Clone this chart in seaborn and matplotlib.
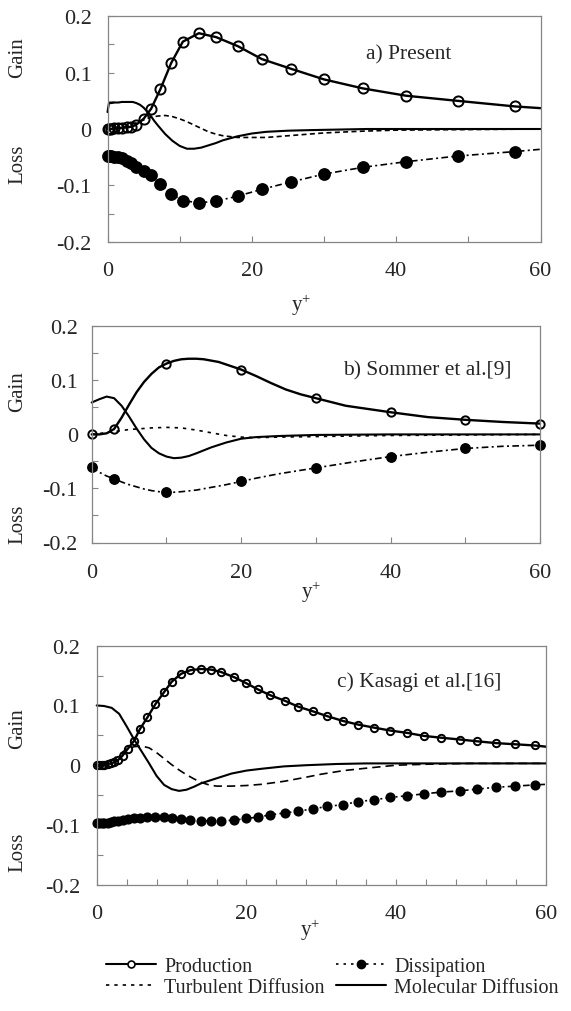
import numpy as np
import pandas as pd
import matplotlib
matplotlib.use("Agg")
import matplotlib.pyplot as plt
from matplotlib.lines import Line2D
import seaborn as sns

sns.set_style("white")
plt.rcParams["font.family"] = ["Liberation Serif", "DejaVu Serif"]
plt.rcParams["mathtext.fontset"] = "custom"
plt.rcParams["mathtext.rm"] = "Liberation Serif"
plt.rcParams["mathtext.it"] = "Liberation Serif:italic"

# ---------------- data ----------------
# Panel a) Present
prod_a_x = [0, 0.15, 0.5, 0.9, 1.4, 2.0, 2.7, 3.3, 3.9, 5.0, 6.05, 7.34, 8.82, 10.44, 12.66,
            15.06, 18.06, 21.4, 25.4, 30.0, 35.4, 41.4, 48.5, 56.5, 60.0]
prod_a_y = [0, 0.000, 0.000, 0.001, 0.001, 0.002, 0.003, 0.004, 0.007, 0.018, 0.036, 0.071, 0.117,
            0.155, 0.170, 0.163, 0.147, 0.124, 0.107, 0.088, 0.072, 0.059, 0.050, 0.040, 0.037]
diss_a_y = [-0.048, -0.048, -0.048, -0.049, -0.050, -0.052, -0.056, -0.061, -0.067, -0.074, -0.082,
            -0.097, -0.115, -0.127, -0.131, -0.128, -0.119, -0.107, -0.094, -0.080, -0.068, -0.058,
            -0.048, -0.040, -0.036]
mol_a_x = [0, 0.2, 0.5, 1, 1.5, 2, 2.5, 3, 3.5, 4, 4.5, 5, 5.5, 6, 6.5, 7, 8, 9, 10, 11, 12, 13,
           14, 15, 16, 18, 20, 22, 25, 28, 32, 36, 40, 50, 60]
mol_a_y = [0.030, 0.046, 0.046, 0.047, 0.047, 0.048, 0.048, 0.048, 0.048, 0.046, 0.043, 0.038,
           0.031, 0.023, 0.014, 0.006, -0.009, -0.021, -0.030, -0.035, -0.035, -0.033, -0.029,
           -0.025, -0.020, -0.013, -0.008, -0.005, -0.003, -0.002, -0.001, 0.0, 0.0, 0.0, 0.0]
turb_a_x = [0, 1, 2, 3, 4, 5, 6, 7, 8, 9, 10, 11, 12, 13, 14, 15, 16, 18, 20, 22, 25, 30, 35, 40,
            50, 60]
turb_a_y = [0, 0.001, 0.003, 0.007, 0.011, 0.016, 0.021, 0.023, 0.024, 0.022, 0.018, 0.013, 0.007,
            0.001, -0.005, -0.009, -0.012, -0.015, -0.015, -0.015, -0.012, -0.007, -0.004, -0.002,
            -0.001, 0.0]

# Panel b) Sommer et al.[9]
mark_b_x = [0, 3, 10, 20, 30, 40, 50, 60]
prod_b_x = [0, 1, 2, 3, 4, 5, 6, 7, 8, 9, 10, 11, 12, 13, 14, 15, 17, 20, 22, 24, 26, 28, 30, 34,
            40, 45, 50, 55, 60]
prod_b_y = [0, 0.000, 0.002, 0.010, 0.031, 0.055, 0.078, 0.097, 0.112, 0.124, 0.131, 0.136, 0.139,
            0.140, 0.140, 0.139, 0.134, 0.120, 0.108, 0.095, 0.083, 0.074, 0.067, 0.053, 0.041,
            0.032, 0.027, 0.023, 0.020]
diss_b_x = [0, 1, 2, 3, 4, 5, 6, 7, 8, 9, 10, 11, 12, 14, 16, 18, 20, 22, 25, 30, 35, 40, 45, 50,
            55, 60]
diss_b_y = [-0.060, -0.070, -0.077, -0.082, -0.088, -0.093, -0.097, -0.101, -0.104, -0.106, -0.107,
            -0.107, -0.106, -0.103, -0.098, -0.093, -0.087, -0.081, -0.073, -0.062, -0.051, -0.041,
            -0.033, -0.026, -0.022, -0.020]
mol_b_x = [0, 1, 2, 3, 4, 5, 6, 7, 8, 9, 10, 11, 12, 13, 14, 16, 18, 20, 22, 25, 30, 40, 50, 60]
mol_b_y = [0.059, 0.065, 0.070, 0.067, 0.053, 0.033, 0.011, -0.009, -0.025, -0.035, -0.041,
           -0.044, -0.043, -0.040, -0.035, -0.024, -0.015, -0.008, -0.005, -0.003, -0.001, 0.0,
           0.0, 0.0]
turb_b_x = [0, 3, 5, 8, 10, 12, 14, 16, 18, 20, 22, 25, 30, 40, 50, 60]
turb_b_y = [0, 0.005, 0.009, 0.012, 0.013, 0.012, 0.008, 0.003, -0.002, -0.005, -0.006, -0.005,
            -0.004, -0.002, -0.001, 0.0]

# Panel c) Kasagi et al.[16]
prod_c_x = [0, 0.3, 0.66, 1.0, 1.46, 1.9, 2.35, 2.88, 3.45, 4.12, 5.0, 5.75, 6.77, 7.83, 8.98,
            10.04, 11.28, 12.5, 13.9, 15.3, 16.6, 18.4, 20.0, 21.5, 23.2, 25.1, 26.9, 28.9, 30.8,
            32.9, 34.9, 37.0, 39.2, 41.5, 43.7, 46.0, 48.5, 50.8, 53.3, 55.9, 58.5, 60.0]
prod_c_y = [0, 0, 0, 0.001, 0.002, 0.003, 0.005, 0.009, 0.016, 0.027, 0.041, 0.060, 0.080, 0.102,
            0.122, 0.140, 0.153, 0.159, 0.161, 0.160, 0.156, 0.147, 0.137, 0.127, 0.117, 0.108,
            0.098, 0.090, 0.082, 0.074, 0.068, 0.063, 0.058, 0.054, 0.049, 0.046, 0.043, 0.040,
            0.037, 0.035, 0.033, 0.031]
diss_c_y = [-0.096, -0.096, -0.096, -0.096, -0.096, -0.095, -0.094, -0.093, -0.092, -0.090,
            -0.089, -0.088, -0.086, -0.086, -0.086, -0.088, -0.090, -0.092, -0.093, -0.093,
            -0.093, -0.092, -0.089, -0.087, -0.083, -0.080, -0.077, -0.073, -0.069, -0.066,
            -0.061, -0.058, -0.054, -0.051, -0.048, -0.045, -0.043, -0.040, -0.037, -0.035,
            -0.033, -0.032]
mol_c_x = [0, 1, 2, 3, 4, 5, 6, 7, 8, 9, 10, 11, 12, 13, 14, 16, 18, 20, 22, 25, 28, 32, 36, 40,
           50, 60]
mol_c_y = [0.100, 0.099, 0.096, 0.086, 0.065, 0.043, 0.023, 0.003, -0.018, -0.033, -0.040, -0.043,
           -0.041, -0.036, -0.030, -0.022, -0.014, -0.009, -0.006, -0.002, 0.000, 0.002, 0.003,
           0.003, 0.003, 0.003]
turb_c_x = [0, 1, 2, 3, 4, 5, 6, 7, 8, 9, 10, 11, 12, 13, 14, 15, 16, 18, 20, 22, 25, 28, 30, 33,
            36, 40, 45, 50, 60]
turb_c_y = [0, 0.002, 0.008, 0.018, 0.027, 0.031, 0.032, 0.029, 0.021, 0.011, 0.001, -0.008,
            -0.016, -0.023, -0.029, -0.033, -0.035, -0.035, -0.034, -0.032, -0.027, -0.020,
            -0.015, -0.009, -0.005, 0.000, 0.002, 0.003, 0.003]

panel_titles = ["a) Present", "b) Sommer et al.[9]", "c) Kasagi et al.[16]"]
series_labels = ["Production", "Turbulent Diffusion", "Dissipation", "Molecular Diffusion"]
y_tick_vals = [-0.2, -0.15, -0.1, -0.05, 0, 0.05, 0.1, 0.15, 0.2]
y_tick_labels = ["-0.2", "", "-0.1", "", "0", "", "0.1", "", "0.2"]
x_label_vals = [0, 20, 40, 60]
x_tick_labels = ["0", "20", "40", "60"]

# ---------------- figure ----------------
W, H = 571, 1012
fig = plt.figure(figsize=(W / 100, H / 100), dpi=100)


def px_ax(l, r, t, b):
    return fig.add_axes([l / W, 1 - b / H, (r - l) / W, (b - t) / H])


FRAME = "#858585"
DISS_LS = (0, (4, 2, 1.2, 2))


def draw(ax, px, py, pmark, dx, dy, dmark, mx, my, tx, ty, pms, dms, turb_ls):
    sns.lineplot(x=tx, y=ty, ax=ax, color="black", linewidth=1.2, linestyle=turb_ls,
                 estimator=None, sort=False, clip_on=False)
    sns.lineplot(x=mx, y=my, ax=ax, color="black", linewidth=1.5, estimator=None,
                 sort=False, clip_on=False)
    sns.lineplot(x=dx, y=dy, ax=ax, color="black", linewidth=1.2, linestyle=DISS_LS,
                 marker="o", markevery=dmark, markersize=dms, markerfacecolor="black",
                 markeredgecolor="black", markeredgewidth=1.0, estimator=None, sort=False,
                 clip_on=False)
    sns.lineplot(x=px, y=py, ax=ax, color="black", linewidth=1.7, marker="o",
                 markevery=pmark, markersize=pms, markerfacecolor="none",
                 markeredgecolor="black", markeredgewidth=1.4, estimator=None, sort=False,
                 clip_on=False)


def style(ax, minor_step, ypad, xpad):
    ax.set_xlim(0, 60)
    ax.set_ylim(-0.2, 0.2)
    ax.set_xlabel("")
    ax.set_ylabel("")
    ax.set_yticks(y_tick_vals)
    ax.set_yticklabels(y_tick_labels)
    ax.set_xticks(x_label_vals)
    ax.set_xticklabels(x_tick_labels)
    ax.set_xticks(np.arange(0, 60.01, minor_step), minor=True)
    ax.tick_params(axis="both", which="both", direction="in", length=4, width=0.8,
                   color=FRAME, labelsize=16, bottom=True, left=True, top=False, right=False)
    ax.tick_params(axis="y", pad=ypad)
    ax.tick_params(axis="x", pad=xpad)
    for s in ax.spines.values():
        s.set_color(FRAME)
        s.set_linewidth(0.9)
    ax.grid(False)


def ftext(x, y, s, **kw):
    fig.text(x / W, 1 - y / H, s, **kw)


# panel a
ax_a = px_ax(107.5, 540.5, 17.3, 242.7)
mark_a = list(range(len(prod_a_x) - 1))
draw(ax_a, prod_a_x, prod_a_y, mark_a, prod_a_x, diss_a_y, mark_a, mol_a_x, mol_a_y,
     turb_a_x, turb_a_y, 7.3, 8.2, (0, (3, 2)))
style(ax_a, 10, 11.5, 13.8)

# panel b
ax_b = px_ax(91.7, 540.0, 327.3, 543.5)
pm_b = [prod_b_x.index(v) for v in mark_b_x]
dm_b = [diss_b_x.index(v) for v in mark_b_x]
draw(ax_b, prod_b_x, prod_b_y, pm_b, diss_b_x, diss_b_y, dm_b, mol_b_x, mol_b_y,
     turb_b_x, turb_b_y, 6.0, 6.8, (0, (2, 3)))
style(ax_b, 10, 10, 15.0)

# panel c
ax_c = px_ax(96.7, 546.0, 646.7, 885.7)
mark_c = list(range(len(prod_c_x) - 1))
draw(ax_c, prod_c_x, prod_c_y, mark_c, prod_c_x, diss_c_y, mark_c, mol_c_x, mol_c_y,
     turb_c_x, turb_c_y, 5.3, 6.3, (0, (5, 3)))
style(ax_c, 4, 12, 13.8)

# panel titles
ftext(366, 55, panel_titles[0], fontsize=15.5, ha="left", va="center")
ftext(343, 371, panel_titles[1], fontsize=15.5, ha="left", va="center")
ftext(337, 682, panel_titles[2], fontsize=15.5, ha="left", va="center")

# x labels
ylab = r"$\mathregular{y^{+}}$"
ftext(301, 305, ylab, fontsize=15, ha="center", va="center")
ftext(311, 592, ylab, fontsize=15, ha="center", va="center")
ftext(310, 930, ylab, fontsize=15, ha="center", va="center")

# Gain / Loss
for gy, ly in [(58, 164), (392, 524), (729, 852)]:
    ftext(18, gy, "Gain", fontsize=15, rotation=90, ha="center", va="center")
    ftext(18, ly, "Loss", fontsize=15, rotation=90, ha="center", va="center")

# legend
handles = [
    Line2D([], [], color="black", lw=1.5, marker="o", ms=5, mfc="white", mec="black", mew=1.2),
    Line2D([], [], color="black", lw=1.2, linestyle=(0, (2, 3))),
    Line2D([], [], color="black", lw=1.2, linestyle=(0, (1.5, 3)), marker="o", ms=6,
           mfc="black", mec="black"),
    Line2D([], [], color="black", lw=1.5),
]
fig.legend(handles, series_labels, ncol=2, frameon=False, fontsize=14.5,
           loc="upper left", bbox_to_anchor=(106 / W, 1 - 958 / H), borderaxespad=0,
           borderpad=0, handlelength=2.5, handletextpad=0.4, columnspacing=0.55,
           labelspacing=0.1)

fig.savefig("out.png", dpi=100)
